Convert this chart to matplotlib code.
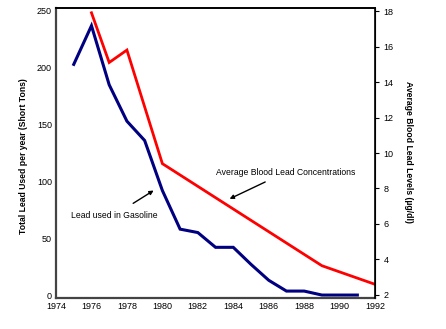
import matplotlib
matplotlib.use('Agg')
import matplotlib.pyplot as plt

plt.rcParams['font.family'] = ['Liberation Sans', 'DejaVu Sans']

# lead used in gasoline (left axis, short tons)
gas_years = [1975, 1976, 1977, 1978, 1979, 1980, 1981, 1982, 1983, 1984, 1985, 1986, 1987, 1988, 1989, 1990, 1991]
gas_lead = [203, 237, 185, 153, 136, 92, 58, 55, 42, 42, 27, 13, 3.5, 3.5, 0, 0, 0]

# average blood lead level (right axis, ug/dl)
blood_years = [1976, 1977, 1978, 1980, 1989, 1992]
blood_lead = [17.9, 15.1, 15.8, 9.4, 3.65, 2.6]

fig = plt.figure(figsize=(4.46, 3.29), dpi=100)
ax1 = fig.add_axes([0.1256, 0.0942, 0.7154, 0.8815])
ax2 = ax1.twinx()

ax1.plot(gas_years, gas_lead, color='#000080', lw=2.2, solid_joinstyle='miter')
ax2.plot(blood_years, blood_lead, color='#FF0000', lw=2.0, solid_joinstyle='miter')

ax1.set_xlim(1974, 1992)
ax1.set_ylim(-2.6, 252.6)
ax2.set_ylim(1.83, 18.17)
ax1.set_xticks(range(1974, 1993, 2))
ax1.set_yticks([0, 50, 100, 150, 200, 250])
ax2.set_yticks([2, 4, 6, 8, 10, 12, 14, 16, 18])

ax1.tick_params(axis='both', labelsize=6.5, length=0, pad=3)
ax2.tick_params(axis='y', labelsize=6.5, length=3, width=0.8, pad=3)

for s in ['left', 'bottom']:
    ax1.spines[s].set_color('#444444')
    ax1.spines[s].set_linewidth(1.6)
    ax2.spines[s].set_visible(False)
ax2.spines['right'].set_linewidth(1.2)
ax2.spines['top'].set_linewidth(1.2)
ax1.spines['top'].set_linewidth(1.2)

ax1.set_ylabel('Total Lead Used per year (Short Tons)', fontsize=6.2, fontweight='bold')
ax1.yaxis.set_label_coords(-0.088, 0.49)
ax2.set_ylabel('Average Blood Lead Levels (\u00b5g/dl)', fontsize=6.2, fontweight='bold', rotation=270)
ax2.yaxis.set_label_coords(1.12, 0.505)

ax1.annotate('Lead used in Gasoline', xy=(1979.64, 93.3), xytext=(1977.3, 70.4),
             fontsize=6.2, ha='center', va='center',
             arrowprops=dict(arrowstyle='-|>', color='black', lw=1.0, mutation_scale=6, shrinkA=6))
ax1.annotate('Average Blood Lead Concentrations', xy=(1983.65, 83.6), xytext=(1986.95, 108),
             fontsize=6.2, ha='center', va='center',
             arrowprops=dict(arrowstyle='-|>', color='black', lw=1.0, mutation_scale=6, shrinkA=4))

fig.savefig('out.png', dpi=100)
